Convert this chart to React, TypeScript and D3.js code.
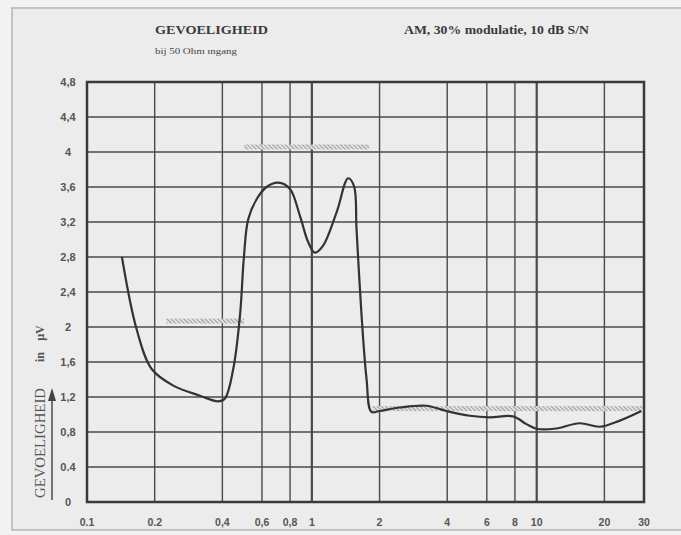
import React from "react";
import * as d3 from "d3";

// frequency (MHz) and sensitivity (µV)
const freq = [0.143, 0.166, 0.194, 0.242, 0.318, 0.383, 0.41, 0.447, 0.479, 0.499, 0.521, 0.568, 0.629, 0.708, 0.798, 0.885, 0.963, 1.031, 1.122, 1.288, 1.45, 1.54, 1.58, 1.66, 1.75, 1.84, 2.0, 2.46, 3.23, 3.97, 5.04, 6.18, 7.85, 9.0, 10.1, 12.2, 15.5, 19.1, 23.4, 29.2];
const sens = [2.8, 1.98, 1.52, 1.33, 1.215, 1.15, 1.18, 1.52, 2.13, 2.81, 3.23, 3.46, 3.6, 3.65, 3.58, 3.27, 2.97, 2.85, 2.93, 3.31, 3.7, 3.61, 3.12, 2.17, 1.41, 1.03, 1.04, 1.08, 1.1, 1.04, 0.986, 0.968, 0.979, 0.89, 0.834, 0.84, 0.9, 0.86, 0.93, 1.04];

// hatched spec bands: [from, to, level]
const specStart = [0.225, 0.5, 1.86];
const specEnd = [0.5, 1.8, 29.5];
const specLevel = [2.05, 4.04, 1.05];

const xTicks = [0.1, 0.2, 0.4, 0.6, 0.8, 1, 2, 4, 6, 8, 10, 20, 30];
const xLabels = ["0.1", "0.2", "0,4", "0,6", "0,8", "1", "2", "4", "6", "8", "10", "20", "30"];
const yTicks = [0, 0.4, 0.8, 1.2, 1.6, 2, 2.4, 2.8, 3.2, 3.6, 4, 4.4, 4.8];
const yLabels = ["0", "0.4", "0,8", "1,2", "1,6", "2", "2,4", "2,8", "3,2", "3,6", "4", "4,4", "4,8"];

const W = 681;
const H = 535;
const left = 87, right = 644, top = 82, bottom = 502;

const App = () => {
  const x = d3.scaleLog().domain([0.1, 30]).range([left, right]);
  const y = d3.scaleLinear().domain([0, 4.8]).range([bottom, top]);

  const pts: [number, number][] = freq.map((f, i) => [f, sens[i]]);
  const line = d3
    .line<[number, number]>()
    .x((d) => x(d[0]))
    .y((d) => y(d[1]))
    .curve(d3.curveCatmullRom.alpha(0.5));

  const serif = "'Liberation Serif', 'DejaVu Serif', serif";
  const sans = "'Liberation Sans', Arial, sans-serif";
  const ink = "#4a4a4a";

  return (
    <div style={{ position: "absolute", left: 0, top: 0 }}>
      <svg width={W} height={H} style={{ display: "block", background: "#f3f3f3" }}>
        <defs>
          <pattern id="hatch" width="3" height="3" patternUnits="userSpaceOnUse" patternTransform="rotate(-45)">
            <rect width="3" height="3" fill="#e2e2e2" />
            <line x1="0" y1="0" x2="0" y2="3" stroke="#8a8a8a" strokeWidth="1.6" />
          </pattern>
        </defs>

        {/* outer frame */}
        <rect x={12} y={8} width={W} height={522} fill="#ececec" stroke="#b5b5b5" strokeWidth={1.5} />

        {/* titles */}
        <text x={155} y={34} fontFamily={serif} fontWeight="bold" fontSize={12.5} fill="#3a3a3a" textLength={113} lengthAdjust="spacingAndGlyphs">
          GEVOELIGHEID
        </text>
        <text x={155} y={54} fontFamily={serif} fontSize={9} fill="#444" textLength={82} lengthAdjust="spacingAndGlyphs">
          bij 50 Ohm  ıngang
        </text>
        <text x={404} y={34} fontFamily={serif} fontWeight="bold" fontSize={12} fill="#3a3a3a" textLength={185} lengthAdjust="spacingAndGlyphs">
          AM, 30% modulatie, 10 dB S/N
        </text>

        {/* grid */}
        <g stroke={ink}>
          {yTicks.map((t) => (
            <line key={"h" + t} x1={left} x2={right} y1={y(t)} y2={y(t)} strokeWidth={1.6} />
          ))}
          {xTicks.map((t) => (
            <line key={"v" + t} x1={x(t)} x2={x(t)} y1={top} y2={bottom} strokeWidth={t === 1 || t === 10 ? 2.2 : 1.4} />
          ))}
        </g>
        <rect x={left} y={top} width={right - left} height={bottom - top} fill="none" stroke="#3a3a3a" strokeWidth={2.5} />

        {/* spec bands */}
        {specStart.map((s, i) => (
          <rect key={"s" + i} x={x(s)} y={y(specLevel[i]) - 4} width={x(specEnd[i]) - x(s)} height={5} fill="url(#hatch)" />
        ))}

        {/* curve */}
        <path d={line(pts) || ""} fill="none" stroke="#333" strokeWidth={2.2} strokeLinejoin="round" />

        {/* y tick labels */}
        {yTicks.map((t, i) => (
          <text key={"yl" + t} x={68} y={y(t) + 4} textAnchor="middle" fontFamily={sans} fontSize={11} fontWeight="bold" fill="#555">
            {yLabels[i]}
          </text>
        ))}

        {/* x tick labels */}
        {xTicks.map((t, i) => (
          <text key={"xl" + t} x={x(t)} y={526} textAnchor="middle" fontFamily={sans} fontSize={10.5} fontWeight="bold" fill="#555">
            {xLabels[i]}
          </text>
        ))}

        {/* y axis caption */}
        <text transform="translate(45,443) rotate(-90)" textAnchor="middle" fontFamily={serif} fontSize={14} fill="#555" textLength={110} lengthAdjust="spacingAndGlyphs">
          GEVOELIGHEID
        </text>
        <line x1={52} x2={52} y1={500} y2={398} stroke="#555" strokeWidth={1.6} />
        <path d="M52,388 L48,401 L56,401 Z" fill="#444" />
        <text transform="translate(44,357) rotate(-90)" textAnchor="middle" fontFamily={serif} fontSize={12} fontWeight="bold" fill="#555">
          in
        </text>
        <text transform="translate(44,333) rotate(-90)" textAnchor="middle" fontFamily={serif} fontSize={12} fontWeight="bold" fill="#555">
          µV
        </text>
      </svg>
    </div>
  );
};

export default App;
